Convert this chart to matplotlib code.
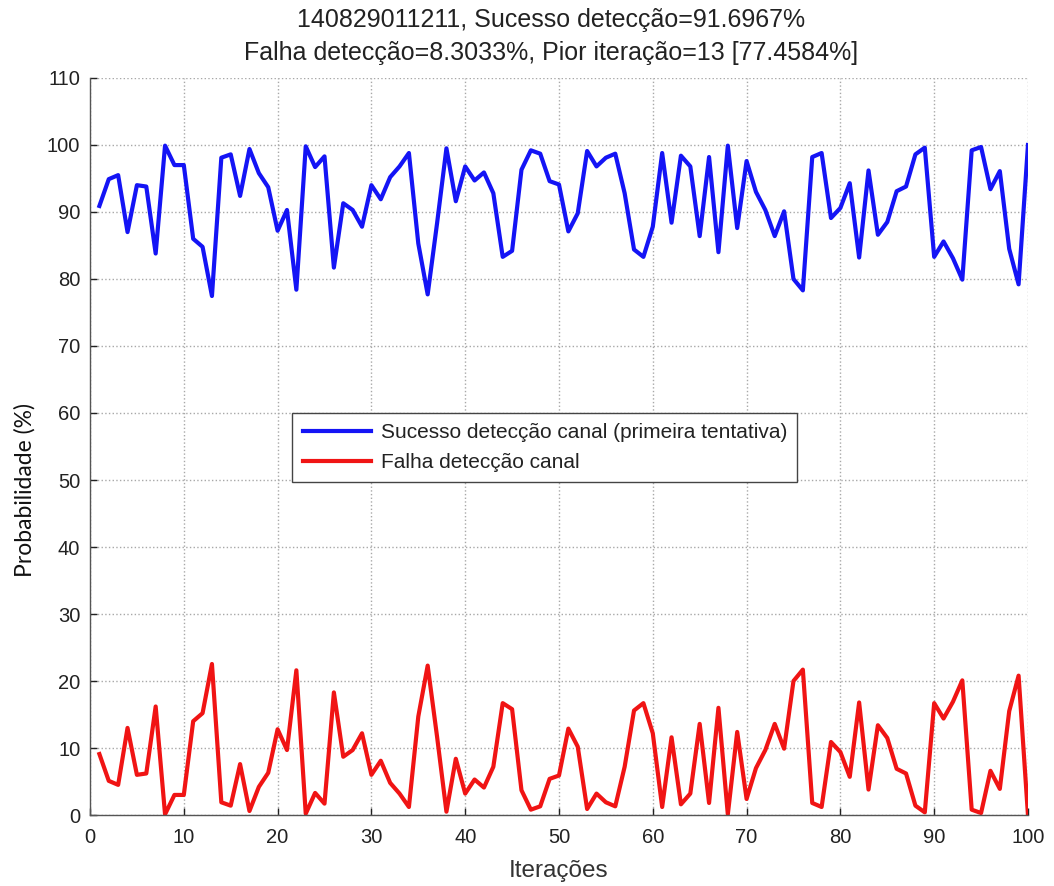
import matplotlib
matplotlib.use("Agg")
import matplotlib.pyplot as plt
import numpy as np

# Iteration index and detection probabilities (%)
iteracoes = list(range(1, 101))

sucesso = [
    90.9, 94.9, 95.5, 87.0, 94.0, 93.8, 83.8, 99.9, 97.0, 97.0,
    86.0, 84.8, 77.46, 98.1, 98.6, 92.4, 99.4, 95.8, 93.7, 87.2,
    90.3, 78.4, 99.8, 96.7, 98.3, 81.7, 91.3, 90.3, 87.8, 94.0,
    91.9, 95.2, 96.8, 98.8, 85.3, 77.7, 88.3, 99.5, 91.6, 96.8,
    94.7, 95.9, 92.8, 83.3, 84.2, 96.3, 99.2, 98.7, 94.6, 94.1,
    87.1, 89.8, 99.1, 96.8, 98.1, 98.7, 92.8, 84.4, 83.3, 87.8,
    98.8, 88.4, 98.4, 96.8, 86.4, 98.2, 84.0, 99.9, 87.6, 97.6,
    93.0, 90.3, 86.4, 90.1, 80.0, 78.3, 98.2, 98.8, 89.1, 90.6,
    94.3, 83.2, 96.2, 86.6, 88.5, 93.1, 93.8, 98.6, 99.6, 83.3,
    85.6, 83.1, 79.9, 99.2, 99.7, 93.4, 96.1, 84.5, 79.2, 100.0,
]

falha = [
    9.1, 5.1, 4.5, 13.0, 6.0, 6.2, 16.2, 0.1, 3.0, 3.0,
    14.0, 15.2, 22.54, 1.9, 1.4, 7.6, 0.6, 4.2, 6.3, 12.8,
    9.7, 21.6, 0.2, 3.3, 1.7, 18.3, 8.7, 9.7, 12.2, 6.0,
    8.1, 4.8, 3.2, 1.2, 14.7, 22.3, 11.7, 0.5, 8.4, 3.2,
    5.3, 4.1, 7.2, 16.7, 15.8, 3.7, 0.8, 1.3, 5.4, 5.9,
    12.9, 10.2, 0.9, 3.2, 1.9, 1.3, 7.2, 15.6, 16.7, 12.2,
    1.2, 11.6, 1.6, 3.2, 13.6, 1.8, 16.0, 0.1, 12.4, 2.4,
    7.0, 9.7, 13.6, 9.9, 20.0, 21.7, 1.8, 1.2, 10.9, 9.4,
    5.7, 16.8, 3.8, 13.4, 11.5, 6.9, 6.2, 1.4, 0.4, 16.7,
    14.4, 16.9, 20.1, 0.8, 0.3, 6.6, 3.9, 15.5, 20.8, 0.0,
]

titulo = ("140829011211, Sucesso detecção=91.6967%\n"
          "Falha detecção=8.3033%, Pior iteração=13 [77.4584%]")
rotulo_sucesso = "Sucesso detecção canal (primeira tentativa)"
rotulo_falha = "Falha detecção canal"

x_ticks = list(range(0, 101, 10))
y_ticks = list(range(0, 111, 10))

plt.rcParams['font.family'] = ['Liberation Sans', 'DejaVu Sans']

fig = plt.figure(figsize=(10.54, 8.86), dpi=100)
ax = fig.add_axes([0.0854, 0.0801, 0.8899, 0.8319])

ax.plot(iteracoes, sucesso, color='#1414f5', linewidth=3.0, label=rotulo_sucesso,
        solid_joinstyle='round')
ax.plot(iteracoes, falha, color='#f01414', linewidth=3.0, label=rotulo_falha,
        solid_joinstyle='round')

ax.set_xlim(0, 100)
ax.set_ylim(0, 110)
ax.set_xticks(x_ticks)
ax.set_yticks(y_ticks)
ax.tick_params(direction='in', length=5, width=1, labelsize=14.5, colors='#222222')
ax.tick_params(axis='x', pad=9)
ax.tick_params(axis='y', pad=7)
ax.grid(True, linestyle=':', color='#a8a8a8', linewidth=1.0)

for side in ('top', 'right'):
    ax.spines[side].set_visible(False)
for side in ('left', 'bottom'):
    ax.spines[side].set_color('#555555')
    ax.spines[side].set_linewidth(1.0)

ax.set_title(titulo, fontsize=18, color='#222222', pad=13, linespacing=1.45)
ax.title.set_x(0.492)
ax.set_xlabel("Iterações", fontsize=17.5, color='#333333', labelpad=10)
ax.set_ylabel("Probabilidade (%)", fontsize=16.5, color='#111111',
              family=['Lato', 'DejaVu Sans'])
ax.yaxis.set_label_coords(-0.058, 0.441)

leg = ax.legend(loc='upper left', bbox_to_anchor=(0.2155, 0.5455), fontsize=15,
                handlelength=3.3, handletextpad=0.45, borderpad=0.5,
                labelspacing=0.5, fancybox=False, framealpha=1.0,
                borderaxespad=0.0)
leg.get_frame().set_edgecolor('#444444')
leg.get_frame().set_linewidth(1.0)
for t in leg.get_texts():
    t.set_color('#222222')

fig.savefig('out.png', dpi=100)
